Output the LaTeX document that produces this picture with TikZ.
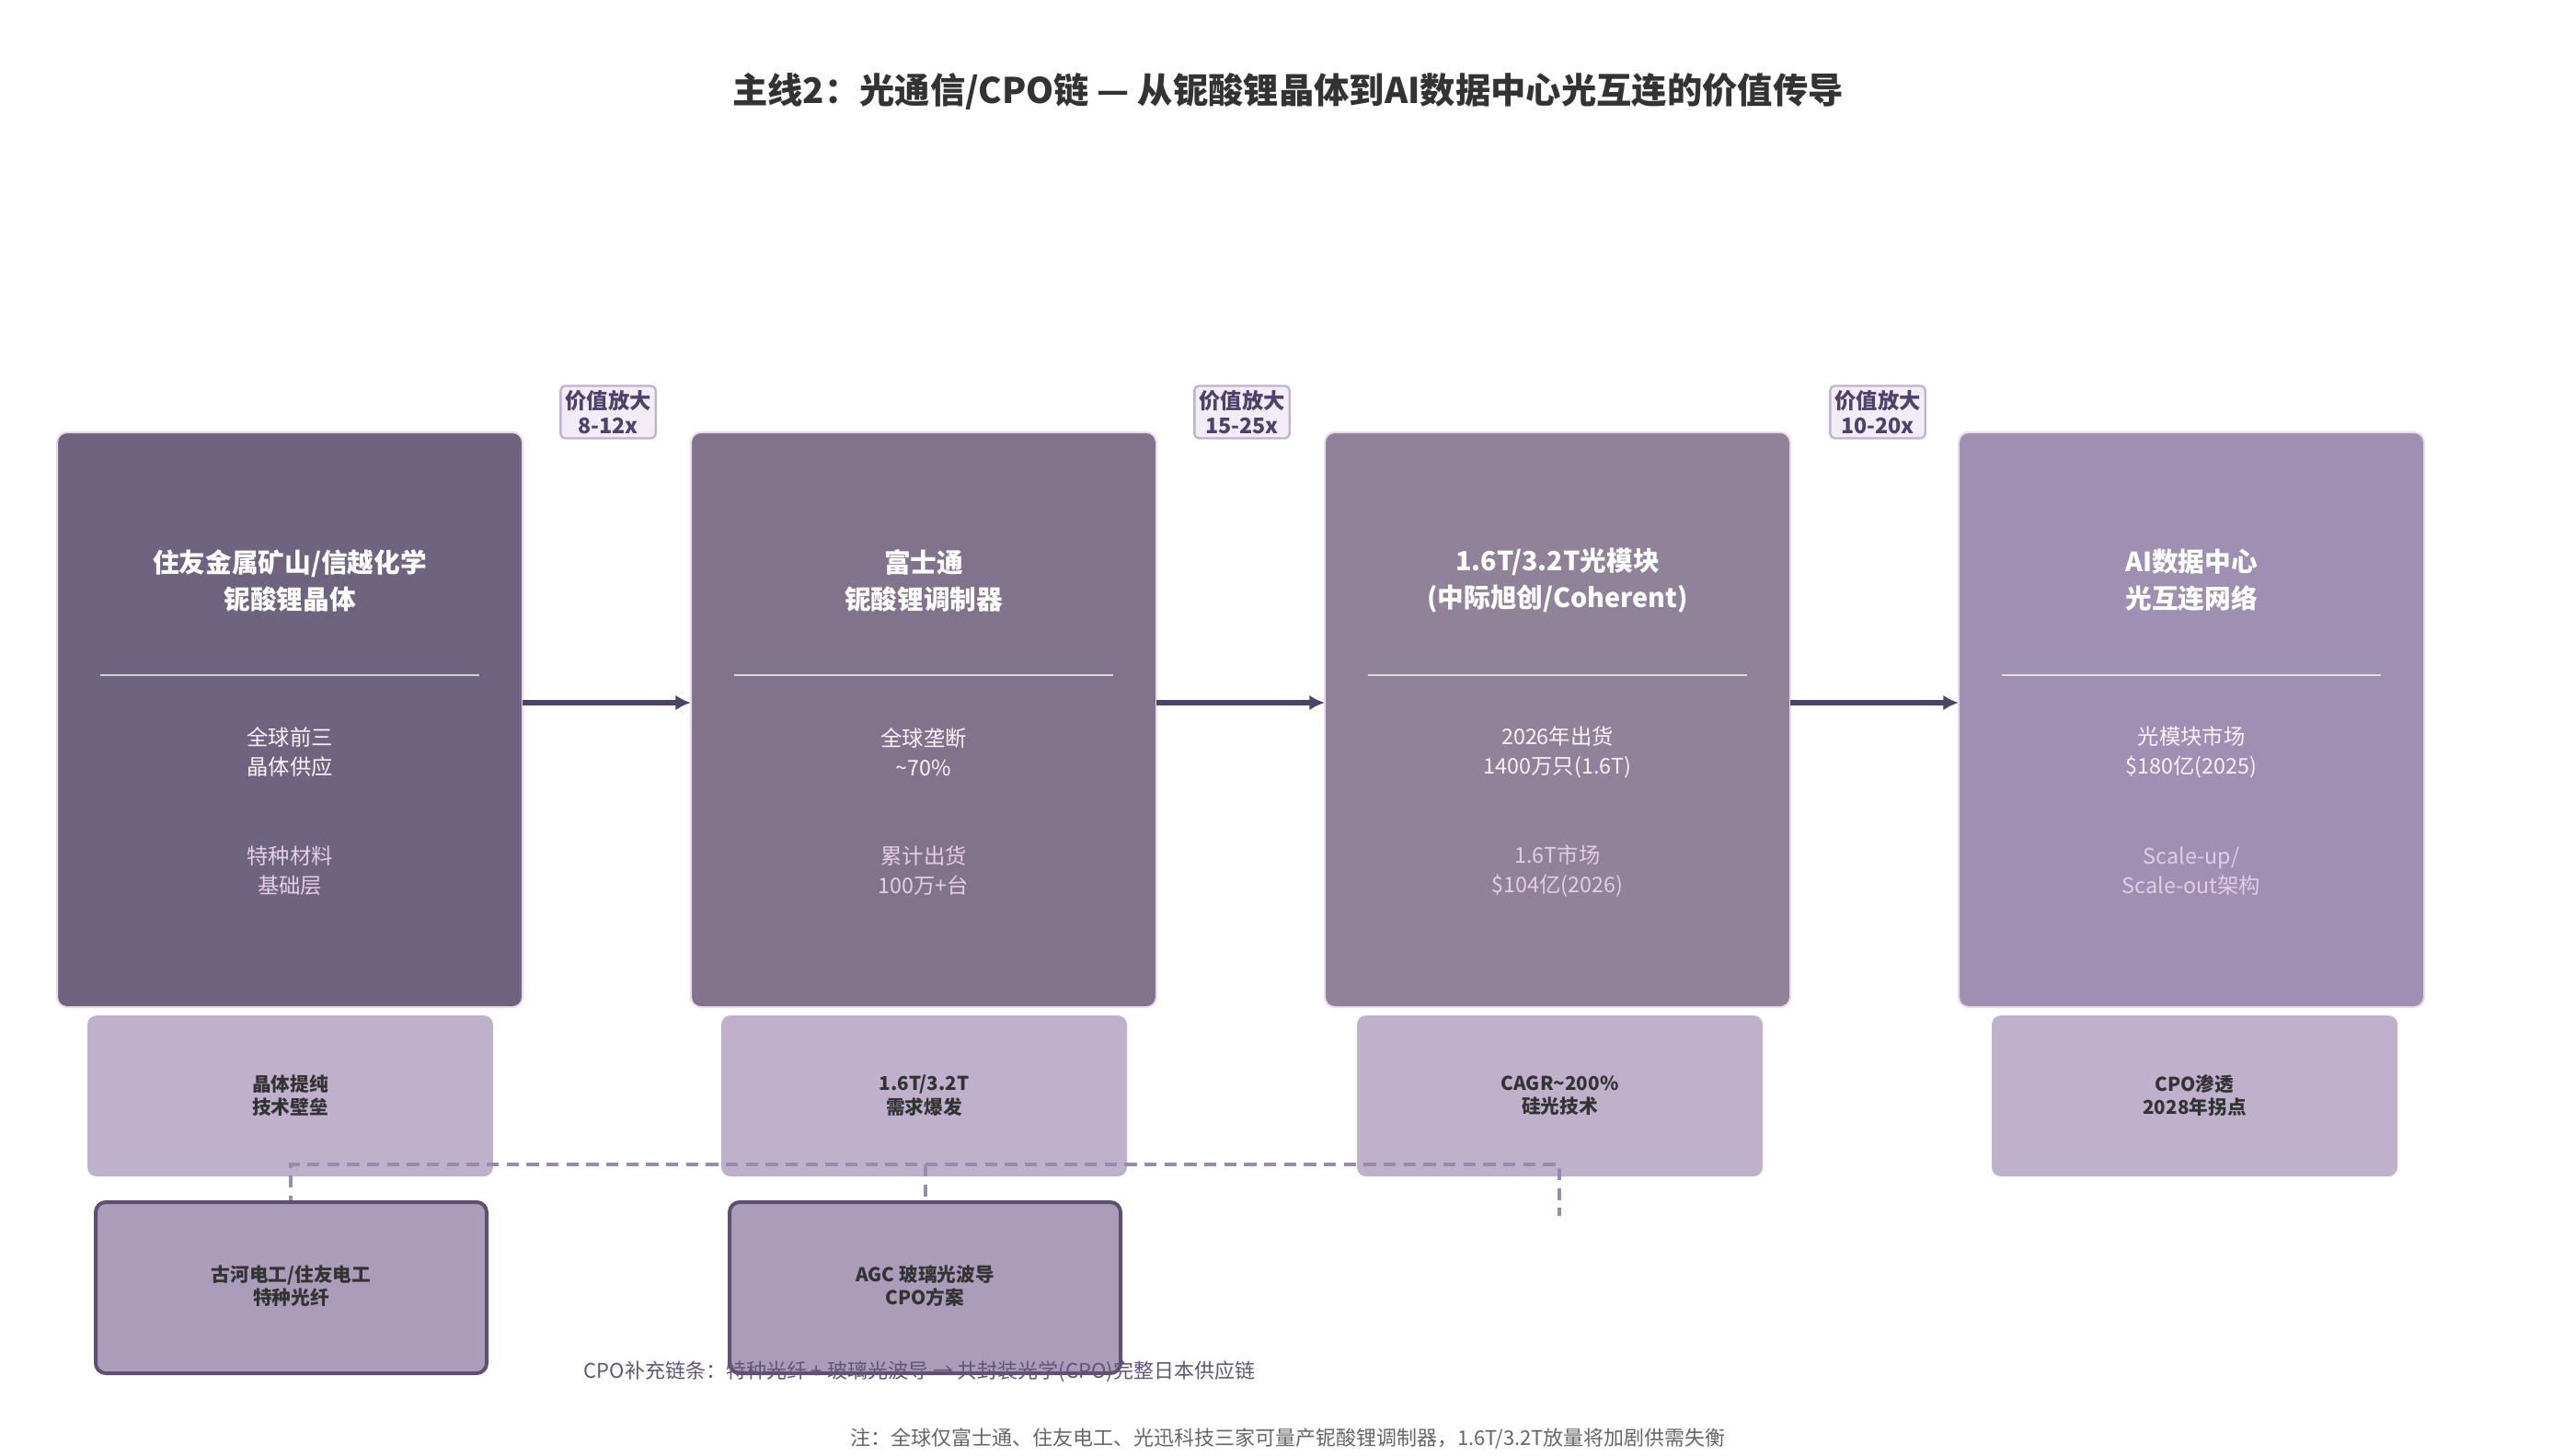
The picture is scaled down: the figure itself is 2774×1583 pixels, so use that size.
\documentclass[tikz,border=0pt]{standalone}
\usepackage{fontspec}
\setmainfont{Noto Sans CJK SC}
\newfontfamily\cjkb{Noto Sans CJK SC}[BoldFont=* Bold]
\begin{document}
\begin{tikzpicture}[x=0.3pt,y=-0.3pt,
  main/.style={draw=white!85!violet,line width=0.6pt,rounded corners=3.3pt,anchor=north west},
  sec/.style={fill=secc,rounded corners=3pt},
  bot/.style={fill=botc,draw=botd,line width=1.2pt,rounded corners=3.3pt},
  badge/.style={fill=badgec,draw=badged,line width=0.7pt,rounded corners=1.5pt,align=center,font=\fontsize{7}{8}\selectfont\bfseries,text=arrc,inner sep=1.5pt},
  arr/.style={draw=arrc,line width=1.6pt,-{Latex[length=5pt,width=5pt]}},
  ttl/.style={text=white,font=\fontsize{8.6}{12}\selectfont\bfseries,align=center},
  t1/.style={text=white!95!violet,font=\fontsize{7}{9.6}\selectfont,align=center},
  t2/.style={text=white!80!violet,font=\fontsize{7}{9.6}\selectfont,align=center},
  st/.style={text=black!80,font=\fontsize{6.2}{7.6}\selectfont\bfseries,align=center},
  dsh/.style={draw=dashc,line width=1.1pt,dash pattern=on 4pt off 2.5pt}]
\usetikzlibrary{arrows.meta}
\definecolor{ca}{HTML}{6F6480}\definecolor{cb}{HTML}{82738C}
\definecolor{cc}{HTML}{908399}\definecolor{cd}{HTML}{9F8FB2}
\definecolor{secc}{HTML}{BFB0CC}\definecolor{botc}{HTML}{AB9DB9}
\definecolor{botd}{HTML}{5E4F73}\definecolor{badgec}{HTML}{F1ECF6}
\definecolor{badged}{HTML}{C2B2D2}\definecolor{arrc}{HTML}{4F426A}
\definecolor{dashc}{HTML}{9A8AAB}
\useasboundingbox (0,0) rectangle (2774,1583);
\node[font=\fontsize{11.5}{14}\selectfont\bfseries,text=black!80] (title) at (1400,100) {主线2：光通信/CPO链 — 从铌酸锂晶体到AI数据中心光互连的价值传导};
% main boxes
\foreach \n/\x/\c in {a/62/ca,b/751/cb,c/1440/cc,d/2129/cd}{
  \fill[\c,rounded corners=3.3pt] (\x,470) rectangle ++(506,625);
  \draw[white!85!violet,line width=0.6pt,rounded corners=3.3pt] (\x,470) rectangle ++(506,625);
  \coordinate (\n) at (\x+253,470);
  \draw[white!70!\c,line width=0.8pt] (\x+47,734) -- (\x+459,734);
}
\foreach \n/\tt/\sa/\sb in {
 a/{住友金属矿山/信越化学\\铌酸锂晶体}/{全球前三\\晶体供应}/{特种材料\\基础层},
 b/{富士通\\铌酸锂调制器}/{全球垄断\\\textasciitilde70\%}/{累计出货\\100万+台},
 c/{1.6T/3.2T光模块\\(中际旭创/Coherent)}/{2026年出货\\1400万只(1.6T)}/{1.6T市场\\\$104亿(2026)},
 d/{AI数据中心\\光互连网络}/{光模块市场\\\$180亿(2025)}/{Scale-up/\\Scale-out架构}}{
  \node[ttl] (\n t) at ([yshift=-0.3pt*161]\n) {\tt};
  \node[t1] (\n s) at ([yshift=-0.3pt*348]\n) {\sa};
  \node[t2] (\n u) at ([yshift=-0.3pt*477]\n) {\sb};
}
% arrows
\coordinate (a1) at (568,764);\coordinate (b1) at (751,764);
\coordinate (b2) at (1257,764);\coordinate (c1) at (1440,764);
\coordinate (c2) at (1946,764);\coordinate (d1) at (2129,764);
\draw[arr] (a1) -- (b1);\draw[arr] (b2) -- (c1);\draw[arr] (c2) -- (d1);
\node[badge] (g1) at (661,448) {价值放大\\\textit{8-12x}};
\node[badge] (g2) at (1350,448) {价值放大\\\textit{15-25x}};
\node[badge] (g3) at (2041,448) {价值放大\\\textit{10-20x}};
% secondary boxes
\foreach \n/\x/\tx in {sa/95/{晶体提纯\\技术壁垒},sb/784/{1.6T/3.2T\\需求爆发},sc/1475/{CAGR\textasciitilde200\%\\硅光技术},sd/2165/{CPO渗透\\2028年拐点}}{
  \fill[secc,rounded corners=3pt] (\x,1104) rectangle ++(441,175);
  \node[st] (\n) at (\x+220.5,1191) {\tx};
}
% dashed
\coordinate (p1) at (316,1266);\coordinate (p2) at (1006,1266);\coordinate (p3) at (1695,1266);
\coordinate (q1) at (316,1313);\coordinate (q2) at (1006,1313);\coordinate (q3) at (1695,1322);
\draw[dsh] (q1) -- (p1) -- (p3) -- (q3);
\draw[dsh] (p2) -- (q2);
% bottom boxes
\foreach \n/\x/\tx in {ba/104/{古河电工/住友电工\\特种光纤},bb/793/{AGC 玻璃光波导\\CPO方案}}{
  \draw[bot] (\x,1307) rectangle ++(425,186);
  \node[st] (\n) at (\x+212.5,1398) {\tx};
}
\node[anchor=west,text=arrc!90!white,font=\fontsize{6.6}{8}\selectfont] (cpo) at (623,1491) {\textit{CPO}补充链条：特种光纤 + 玻璃光波导 → 共封装光学(\textit{CPO})完整日本供应链};
\node[text=black!60,font=\fontsize{6.6}{8}\selectfont] (note) at (1400,1564) {注：全球仅富士通、住友电工、光迅科技三家可量产铌酸锂调制器，\textit{1.6T/3.2T}放量将加剧供需失衡};
\end{tikzpicture}
\end{document}
